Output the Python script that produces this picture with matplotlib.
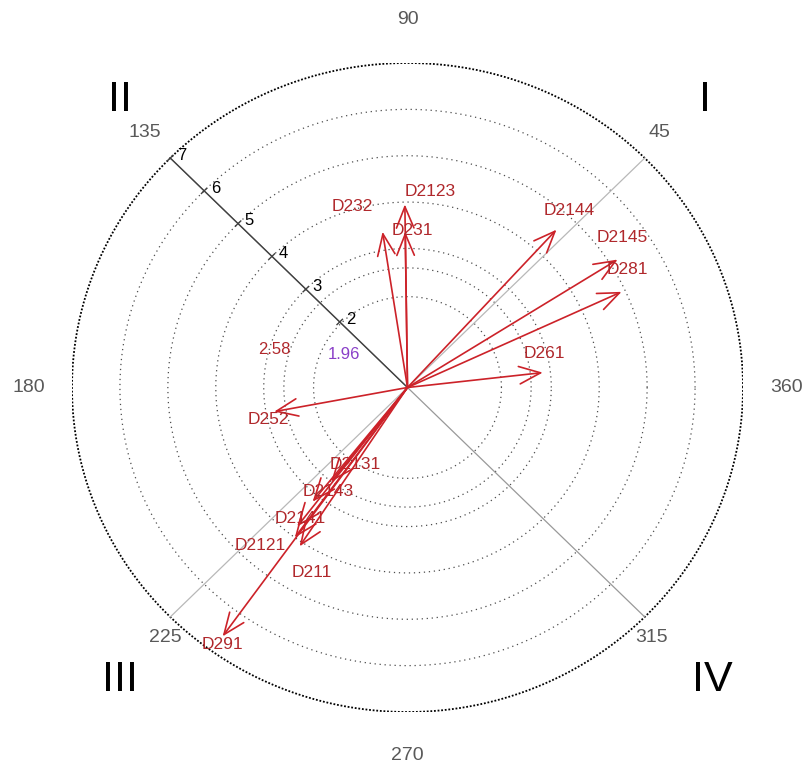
import matplotlib
matplotlib.use('Agg')
import matplotlib.pyplot as plt
import numpy as np

# arrows: name, direction (deg), length
names = ['D2144', 'D2145', 'D281', 'D261', 'D232', 'D2123', 'D231', 'D252',
         'D2131', 'D2143', 'D2141', 'D2121', 'D211', 'D291']
angles = [47.6, 32.2, 24.8, 6.5, 98.8, 90.8, 90.8, 190.6,
          231.9, 231.2, 232.5, 234.0, 236.7, 234.3]
lengths = [4.61, 5.18, 4.92, 2.84, 3.40, 3.95, 3.36, 2.83,
           2.58, 3.16, 3.78, 4.00, 4.10, 6.61]
# label offsets from arrow tip (points)
label_off = [(9, 14), (3, 16), (4, 16), (1, 14), (-22, 18), (18, 9), (5, 1), (-4, -6),
             (17, 12), (11, 7), (2, 6), (-25, -6), (9, -19), (0, -6)]

rings = [1.96, 2.58, 3, 4, 5, 6]
scale_ticks = [2, 3, 4, 5, 6, 7]
theta_labels = ['45', '90', '135', '180', '225', '270', '315', '360']
theta_xy = [(5.26, 5.5), (0, 7.93), (-5.49, 5.5), (-7.9, 0),
            (-5.05, -5.4), (0, -7.93), (5.1, -5.4), (7.9, 0)]
quadrants = ['I', 'II', 'III', 'IV']
quad_xy = [(6.2, 6.2), (-6.0, 6.2), (-6.0, -6.3), (6.35, -6.3)]

rmax = 7
red = '#cc2229'
txt_red = '#b0282c'
font = 'Liberation Sans'

fig = plt.figure(figsize=(8.08, 7.70), dpi=100)
ax = fig.add_axes([72 / 808, 58 / 770, 671 / 808, 649 / 770])
ax.set_xlim(-rmax, rmax)
ax.set_ylim(-rmax, rmax)
ax.axis('off')

t = np.linspace(0, 2 * np.pi, 721)
for r in rings:
    ax.plot(r * np.cos(t), r * np.sin(t), ls=(0, (1, 3)), color='0.3', lw=0.9)
ax.plot(rmax * np.cos(t), rmax * np.sin(t), ls=(0, (1, 1)), color='black', lw=1.3)

# diagonals
d = np.deg2rad(45)
ax.plot([-rmax * np.cos(d), rmax * np.cos(d)], [-rmax * np.sin(d), rmax * np.sin(d)],
        color='0.72', lw=0.9)
ax.plot([-rmax * np.cos(d), rmax * np.cos(d)], [rmax * np.sin(d), -rmax * np.sin(d)],
        color='0.6', lw=0.9)
ax.plot([0, -rmax * np.cos(d)], [0, rmax * np.sin(d)], color='0.25', lw=1.0)

# scale ticks along 135 deg
u = np.array([-np.cos(d), np.sin(d)])
p = np.array([np.sin(d), np.cos(d)])
for s in scale_ticks:
    c = s * u
    ax.plot([c[0] - 0.08 * p[0], c[0] + 0.08 * p[0]], [c[1] - 0.08 * p[1], c[1] + 0.08 * p[1]],
            color='0.25', lw=1.0)
    ax.annotate(str(s), c, xytext=(8, 2), textcoords='offset points', ha='center', va='center',
                fontsize=12, color='black', family=font)

ax.text(-1.32, 0.71, '1.96', color='#8a3fc8', fontsize=12, ha='center', va='center', family=font)
ax.text(-2.78, 0.82, '2.58', color=txt_red, fontsize=12, ha='center', va='center', family=font)

# angle labels
for lab, (x, y) in zip(theta_labels, theta_xy):
    ax.text(x, y, lab, ha='center', va='center', fontsize=14, color='0.35',
            family=font, clip_on=False)

for q, (x, y) in zip(quadrants, quad_xy):
    ax.text(x, y, q, ha='center', va='center', fontsize=31, color='black',
            family=font, clip_on=False)

# arrows
for n, a, L, off in zip(names, angles, lengths, label_off):
    ar = np.deg2rad(a)
    tip = (L * np.cos(ar), L * np.sin(ar))
    ax.annotate('', xy=tip, xytext=(0, 0),
                arrowprops=dict(arrowstyle='->,head_length=1.1,head_width=0.45', color=red,
                                lw=1.2, shrinkA=0, shrinkB=0, mutation_scale=14))
    ax.annotate(n, tip, xytext=off, textcoords='offset points', ha='center', va='center',
                fontsize=12.5, color=txt_red, family=font)

fig.savefig('out.png', dpi=100)
